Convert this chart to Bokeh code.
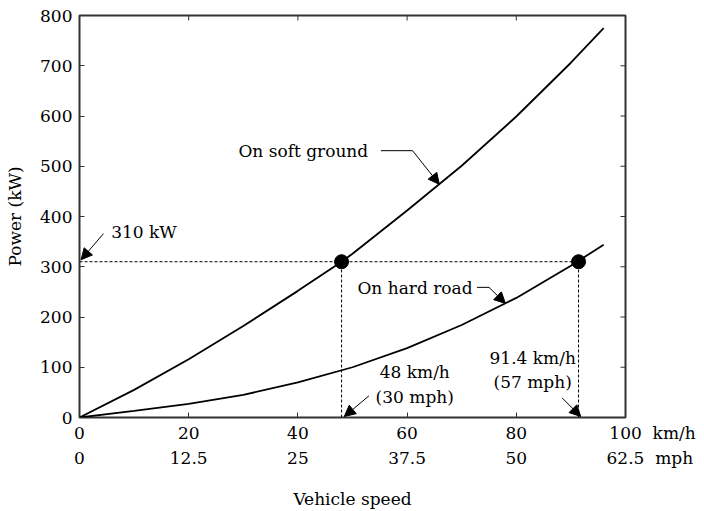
import math
from bokeh.plotting import figure
from bokeh.models import (Label, Arrow, NormalHead, LinearAxis, FixedTicker,
                          Range1d)
from bokeh.embed import file_html
from bokeh.resources import INLINE

# ---- data ----
soft_speed = [0, 10, 20, 30, 40, 48, 50, 60, 70, 80, 90, 96]
soft_power = [0, 55, 116, 182, 252, 310, 326, 412, 501, 599, 706, 775]

hard_speed = [0, 10, 20, 30, 40, 50, 60, 70, 80, 90, 96]
hard_power = [0, 13, 27, 45, 70, 100, 138, 184, 238, 302, 344]

mark_speed = [48, 91.4]
mark_power = [310, 310]

x_ticks = [0, 20, 40, 60, 80, 100]
kmh_labels = ["0", "20", "40", "60", "80", "100"]
mph_labels = ["0", "12.5", "25", "37.5", "50", "62.5"]
y_ticks = [0, 100, 200, 300, 400, 500, 600, 700, 800]
unit_kmh = "km/h"
unit_mph = "mph"

FONT = "DejaVu Serif"
FS = "17px"
AX = "#333333"
NB = "\u00a0"

p = figure(width=704, height=511, x_range=Range1d(0, 100), y_range=Range1d(0, 800),
           output_backend="svg", toolbar_location=None,
           min_border_left=79, min_border_right=79, min_border_top=15, min_border_bottom=94)
p.grid.visible = False
p.outline_line_color = AX
p.outline_line_width = 2
p.background_fill_color = "white"
p.border_fill_color = "white"

# last tick label carries the unit; padded on the left so the number stays centred
kmh_over = {t: l for t, l in zip(x_ticks, kmh_labels)}
kmh_over[x_ticks[-1]] = NB * 10 + kmh_labels[-1] + NB * 2 + unit_kmh
mph_over = {t: l for t, l in zip(x_ticks, mph_labels)}
mph_over[x_ticks[-1]] = NB * 9 + mph_labels[-1] + NB * 2 + unit_mph

# bottom axis (km/h)
xa = p.xaxis[0]
xa.ticker = FixedTicker(ticks=x_ticks)
xa.major_label_overrides = kmh_over
xa.major_tick_in = 5
xa.major_tick_out = 0
xa.minor_tick_line_color = None
xa.axis_line_color = None
xa.major_tick_line_color = AX
xa.major_label_standoff = 5
xa.major_label_text_font = FONT
xa.major_label_text_font_size = FS
xa.major_label_text_color = "black"

# second bottom axis (mph)
xa2 = LinearAxis(ticker=FixedTicker(ticks=x_ticks),
                 major_label_overrides=mph_over,
                 major_tick_in=0, major_tick_out=0, minor_tick_line_color=None,
                 major_tick_line_color=None, axis_line_color=None,
                 major_label_standoff=2, major_label_text_font=FONT,
                 major_label_text_font_size=FS, major_label_text_color="black",
                 axis_label="Vehicle speed", axis_label_text_font=FONT,
                 axis_label_text_font_size=FS, axis_label_text_font_style="normal",
                 axis_label_standoff=18, axis_label_text_color="black")
p.add_layout(xa2, "below")

# left axis
ya = p.yaxis[0]
ya.ticker = FixedTicker(ticks=y_ticks)
ya.major_tick_in = 5
ya.major_tick_out = 0
ya.minor_tick_line_color = None
ya.axis_line_color = None
ya.major_tick_line_color = AX
ya.major_label_standoff = 7
ya.major_label_text_font = FONT
ya.major_label_text_font_size = FS
ya.major_label_text_color = "black"
ya.axis_label = "Power (kW)"
ya.axis_label_text_font = FONT
ya.axis_label_text_font_size = FS
ya.axis_label_text_font_style = "normal"
ya.axis_label_standoff = 12
ya.axis_label_text_color = "black"

# inward ticks on top and right edges (half of each dash is clipped by the frame)
p.scatter(x_ticks[1:-1], [y_ticks[-1]] * (len(x_ticks) - 2), marker="dash",
          angle=math.pi / 2, size=10, line_color=AX, line_width=1)
p.scatter([x_ticks[-1]] * (len(y_ticks) - 2), y_ticks[1:-1], marker="dash",
          size=10, line_color=AX, line_width=1)

# curves
p.line(soft_speed, soft_power, line_color="black", line_width=1.8)
p.line(hard_speed, hard_power, line_color="black", line_width=1.8)

# dashed guide lines
p.segment(x0=[0], y0=[mark_power[0]], x1=[max(mark_speed)], y1=[mark_power[0]],
          line_color="black", line_width=1, line_dash="3 2")
p.segment(x0=mark_speed, y0=[0, 0], x1=mark_speed, y1=mark_power,
          line_color="black", line_width=1, line_dash="3 2")
p.scatter(mark_speed, mark_power, size=14, color="black")

def txt(x, y, s, align="left"):
    p.add_layout(Label(x=x, y=y, text=s, text_font=FONT, text_font_size=FS,
                       text_align=align, text_baseline="middle", text_color="black"))

def arrow(x0, y0, x1, y1):
    p.add_layout(Arrow(end=NormalHead(size=11, fill_color="black", line_color="black"),
                       x_start=x0, y_start=y0, x_end=x1, y_end=y1,
                       line_color="black", line_width=1))

# annotations
txt(5.8, 370, "310 kW")
arrow(4.4, 366, 0.3, 314)

txt(29.1, 531, "On soft ground")
p.line([55.2, 61.0], [531, 531], line_color="black", line_width=1)
arrow(61.0, 531, 65.9, 464)

txt(50.9, 258, "On hard road")
p.line([72.8, 75.0], [259, 259], line_color="black", line_width=1)
arrow(75.0, 259, 78.0, 227)

txt(61.4, 90, "48 km/h", "center")
txt(61.4, 40, "(30 mph)", "center")
arrow(53.0, 43, 48.5, 2)

txt(83.0, 119, "91.4 km/h", "center")
txt(83.0, 70, "(57 mph)", "center")
arrow(88.4, 39, 91.8, 2)

open("out.html", "w").write(file_html(p, INLINE))
